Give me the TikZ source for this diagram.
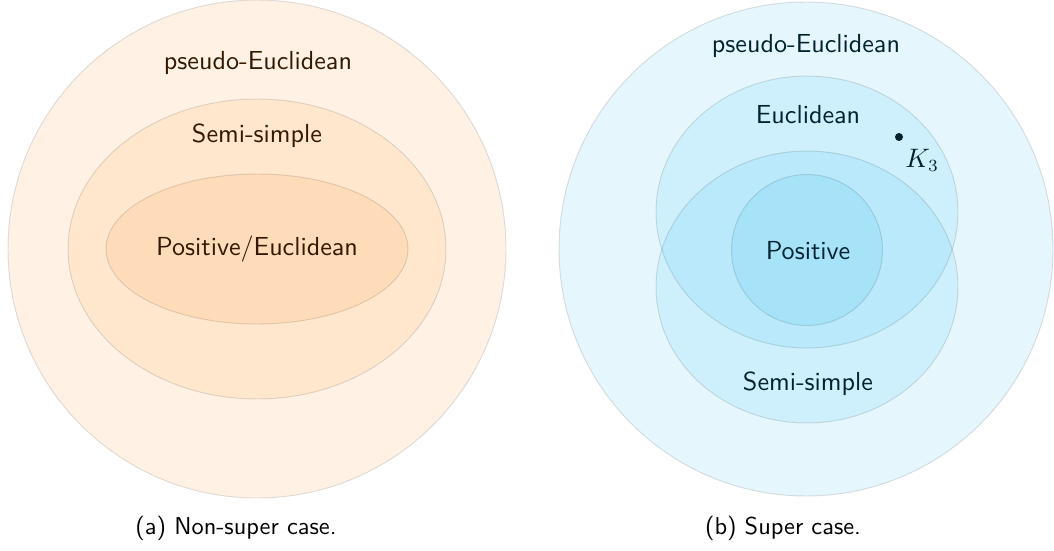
\documentclass[tikz,border=0pt]{standalone}
\definecolor{warm}{RGB}{255,128,0}
\definecolor{cool}{RGB}{0,174,239}
\tikzset{
  region/.style={fill=#1, fill opacity=0.1, draw=black, draw opacity=0.12, line width=0.4pt},
  lab/.style={font=\sffamily\fontsize{10.7}{13}\selectfont, text=#1!20!black},
  subcap/.style={font=\sffamily\fontsize{10}{12}\selectfont, anchor=base},
}
\begin{document}
\begin{tikzpicture}[x=0.41pt, y=-0.41pt]
    \useasboundingbox (0,0) rectangle (1054,550);

    % (a) non-super case: nested sets
    \draw[region=warm] (257,249) circle (249);
    \draw[region=warm] (257,249) ellipse [x radius=189, y radius=150];
    \draw[region=warm] (257,249) ellipse [x radius=151, y radius=75];
    \node[lab=warm] (pseudoA) at (258,63) {pseudo-Euclidean};
    \node[lab=warm] (semiA) at (257,136) {Semi-simple};
    \node[lab=warm] (posA) at (257,249) {Positive/Euclidean};
    \node[subcap] (capA) at (236,534) {(a) Non-super case.};

    % (b) super case: Euclidean and semi-simple overlap
    \draw[region=cool] (806,249) circle (247);
    \draw[region=cool] (807,212) ellipse [x radius=151, y radius=136];
    \draw[region=cool] (807,287) ellipse [x radius=151, y radius=136];
    \draw[region=cool] (807,250) circle (75.5);
    \node[lab=cool] (pseudoB) at (806,46) {pseudo-Euclidean};
    \node[lab=cool] (euclB) at (808,115) {Euclidean};
    \node[lab=cool] (posB) at (808,251) {Positive};
    \node[lab=cool] (semiB) at (808,384) {Semi-simple};
    \fill[cool!20!black] (899,137) circle (4);
    \node[lab=cool, anchor=base west, inner sep=0pt] (kthree) at (905,167) {$K_3$};
    \node[subcap] (capB) at (783,534) {(b) Super case.};
\end{tikzpicture}
\end{document}
